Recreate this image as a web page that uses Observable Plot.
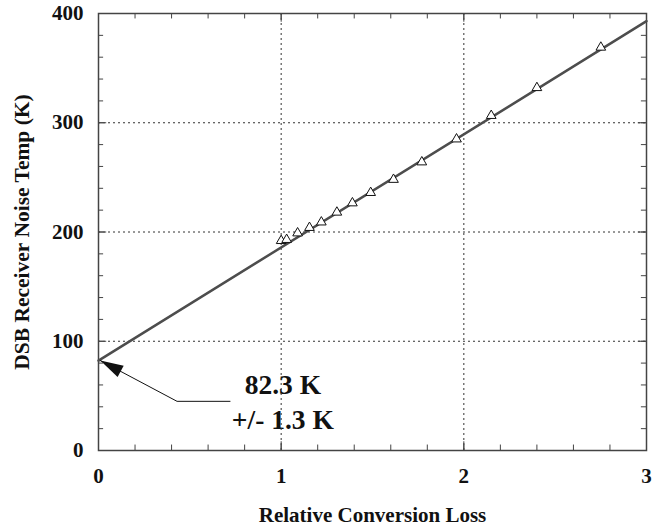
<!DOCTYPE html>
<html>
<head>
<meta charset="utf-8">
<script src="https://cdn.jsdelivr.net/npm/d3@7"></script>
<script src="https://cdn.jsdelivr.net/npm/@observablehq/plot@0.6"></script>
<style>
  html, body { margin: 0; padding: 0; background: #fff; }
</style>
</head>
<body>
<div id="chart"></div>
<script>
// Measured points
const lossValues = [1.00, 1.03, 1.09, 1.155, 1.22, 1.305, 1.39, 1.49, 1.615, 1.77, 1.96, 2.15, 2.40, 2.75];
const tempValues = [192, 193, 199, 204, 209, 218, 226.5, 236, 248, 264, 285, 306.5, 332, 369];
// Fit line endpoints
const fitLoss = [0, 3];
const fitTemp = [82.3, 393];
// Tick labels
const xTicks = [0, 1, 2, 3];
const yTicks = [0, 100, 200, 300, 400];
const xGrid = [1, 2];
const yGrid = [100, 200, 300];
const xMinor = d3.range(0, 3.001, 0.2);
const yMinor = d3.range(0, 400.1, 20);
// Annotation
const annoLabels = ["82.3 K", "+/- 1.3 K"];
const annoLoss = [0.80, 0.73];
const annoTemp = [59.5, 27.5];
const arrowLoss = [0.01, 0.43, 0.72];
const arrowTemp = [82.3, 45, 45];

const points = lossValues.map((x, i) => ({x, y: tempValues[i]}));
const fit = fitLoss.map((x, i) => ({x, y: fitTemp[i]}));
const anno = annoLabels.map((t, i) => ({t, x: annoLoss[i], y: annoTemp[i]}));
const arrow = arrowLoss.map((x, i) => ({x, y: arrowTemp[i]}));

const arrowHead = {
  draw(context) {
    context.moveTo(0, 0);
    context.lineTo(23, -6.5);
    context.lineTo(23, 6.5);
    context.closePath();
  }
};

const frameColor = "#444";
const minorX = 0.028, majorX = 0.045;   // tick lengths in data units
const minorY = 5, majorY = 8;

const chart = Plot.plot({
  width: 662,
  height: 526,
  marginTop: 13,
  marginRight: 16,
  marginBottom: 76,
  marginLeft: 98,
  style: {fontFamily: "'Liberation Serif', 'Times New Roman', serif", fontWeight: "bold", fontSize: "21px", color: "#111", background: "#fff"},
  x: {domain: [0, 3]},
  y: {domain: [0, 400]},
  marks: [
    // annotation text (drawn under grid like the reference)
    Plot.text(anno, {x: "x", y: "y", text: "t", textAnchor: "start", fontSize: 27.5, fontWeight: "bold", fill: "#111"}),
    Plot.gridX(xGrid, {stroke: "#333", strokeOpacity: 1, strokeDasharray: "2,3"}),
    Plot.gridY(yGrid, {stroke: "#333", strokeOpacity: 1, strokeDasharray: "2,3"}),
    // inward minor ticks on all four sides
    Plot.ruleY(yMinor, {x1: 0, x2: minorX, stroke: frameColor}),
    Plot.ruleY(yMinor, {x1: 3 - minorX, x2: 3, stroke: frameColor}),
    Plot.ruleX(xMinor, {y1: 0, y2: minorY, stroke: frameColor}),
    Plot.ruleX(xMinor, {y1: 400 - minorY, y2: 400, stroke: frameColor}),
    Plot.ruleY(yTicks, {x1: 0, x2: majorX, stroke: frameColor}),
    Plot.ruleY(yTicks, {x1: 3 - majorX, x2: 3, stroke: frameColor}),
    Plot.ruleX(xTicks, {y1: 0, y2: majorY, stroke: frameColor}),
    Plot.ruleX(xTicks, {y1: 400 - majorY, y2: 400, stroke: frameColor}),
    Plot.frame({stroke: frameColor, strokeWidth: 1.5}),
    Plot.axisX({ticks: xTicks, tickSize: 0, tickPadding: 18, tickFormat: d => String(d), label: null, fontSize: 21, fontWeight: "bold"}),
    Plot.axisY({ticks: yTicks, tickSize: 0, tickPadding: 15, tickFormat: d => String(d), label: null, fontSize: 21, fontWeight: "bold"}),
    // fit line
    Plot.line(fit, {x: "x", y: "y", stroke: "#4d4d4d", strokeWidth: 2.5}),
    // data points
    Plot.dot(points, {x: "x", y: "y", symbol: "triangle", r: 3.6, stroke: "#111", strokeWidth: 1, fill: "white"}),
    // arrow
    Plot.line(arrow, {x: "x", y: "y", stroke: "#111", strokeWidth: 1, curve: "linear"}),
    Plot.dot([arrow[0]], {x: "x", y: "y", symbol: arrowHead, rotate: 28, fill: "#111", stroke: "none"}),
    // axis titles
    Plot.text(["Relative Conversion Loss"], {frameAnchor: "bottom", textAnchor: "middle", dy: 71, fontSize: 21, fontWeight: "bold", fill: "#111"}),
    Plot.text(["DSB Receiver Noise Temp (K)"], {frameAnchor: "left", textAnchor: "middle", dx: -76, rotate: -90, fontSize: 21.5, fontWeight: "bold", fill: "#111"})
  ]
});

document.getElementById("chart").appendChild(chart);
</script>
</body>
</html>
